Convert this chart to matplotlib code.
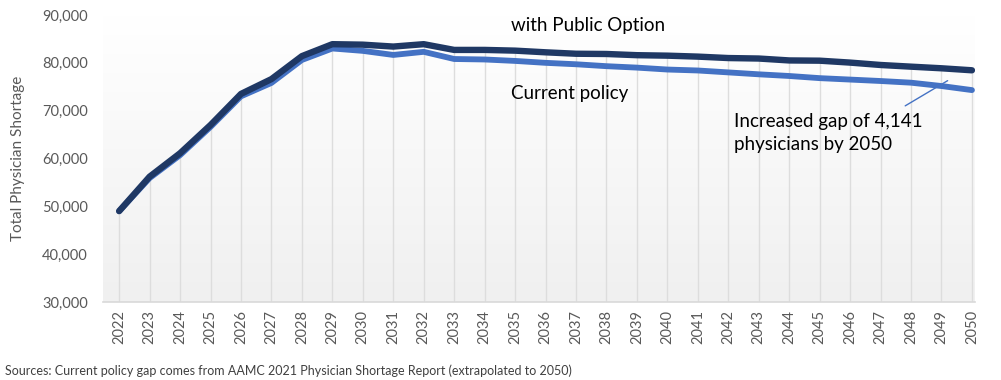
import matplotlib
matplotlib.use("Agg")
import matplotlib.pyplot as plt
import numpy as np

plt.rcParams['font.family'] = ['Lato', 'DejaVu Sans']

years = list(range(2022, 2051))
public_option = [49000, 56200, 61100, 67000, 73500, 76600, 81400, 83900, 83800, 83400,
                 83900, 82700, 82700, 82550, 82200, 81900, 81850, 81600, 81500, 81300,
                 81000, 80900, 80500, 80450, 80050, 79550, 79200, 78860, 78441]
current_policy = [49000, 55900, 60700, 66600, 73000, 75800, 80600, 83000, 82500, 81650,
                  82300, 80800, 80700, 80400, 80000, 79700, 79300, 79000, 78600, 78400,
                  78000, 77600, 77250, 76800, 76500, 76200, 75850, 75150, 74300]
yticks = [30000, 40000, 50000, 60000, 70000, 80000, 90000]

W, H = 1001, 380
fig = plt.figure(figsize=(W / 100, H / 100), dpi=100)
ax = fig.add_axes([103 / W, (H - 302) / H, (975 - 103) / W, (302 - 15) / H])

xmin, xmax = 2021.47, 2050.1
ymin, ymax = 30000, 90000

# soft gradient background of the plot area
grad = np.linspace(0, 1, 256).reshape(-1, 1)
cmap = matplotlib.colors.LinearSegmentedColormap.from_list('bg', ['#f0f0f0', '#ffffff'])
ax.imshow(grad, cmap=cmap, aspect='auto', extent=[xmin, xmax, ymin, ymax],
          origin='lower', zorder=0)

# drop lines from the top series
ax.vlines(years, ymin, public_option, color='#dddddd', lw=1, zorder=1)

ax.plot(years, current_policy, color='#4472c4', lw=4.2, solid_capstyle='round',
        solid_joinstyle='round', zorder=3)
ax.plot(years, public_option, color='#1f3864', lw=4.6, solid_capstyle='round',
        solid_joinstyle='round', zorder=4)

ax.set_xlim(xmin, xmax)
ax.set_ylim(ymin, ymax)
ax.set_xticks(years)
ax.set_xticklabels([str(y) for y in years], rotation=90, fontsize=10.5, color='#595959')
ax.set_yticks(yticks)
ax.set_yticklabels([f'{v:,}' for v in yticks], fontsize=10.5, color='#595959')
ax.tick_params(length=0, pad=6)
ax.tick_params(axis='y', pad=11)
for s in ['top', 'right', 'left']:
    ax.spines[s].set_visible(False)
ax.spines['bottom'].set_color('#d9d9d9')
ax.spines['bottom'].set_linewidth(1.2)

ax.set_ylabel('Total Physician Shortage', fontsize=11, color='#595959')
ax.yaxis.set_label_coords(-0.09, 0.5)

ax.text(2034.85, 87900, 'with Public Option', fontsize=13.5, color='#000000', va='center')
ax.text(2034.85, 73500, 'Current policy', fontsize=13.5, color='#000000', va='center')
ax.annotate('', xy=(2049.28, 76570), xytext=(2047.73, 70710),
            arrowprops=dict(arrowstyle='-', color='#4472c4', lw=1))
ax.text(2042.2, 69500, 'Increased gap of 4,141\nphysicians by 2050', fontsize=13.5,
        color='#000000', va='top', linespacing=1.4)

fig.text(5 / W, 1 - 371 / H, 'Sources: Current policy gap comes from AAMC 2021 Physician Shortage '
         'Report (extrapolated to 2050)', fontsize=9, color='#404040', va='center')

fig.savefig('out.png', dpi=100)
